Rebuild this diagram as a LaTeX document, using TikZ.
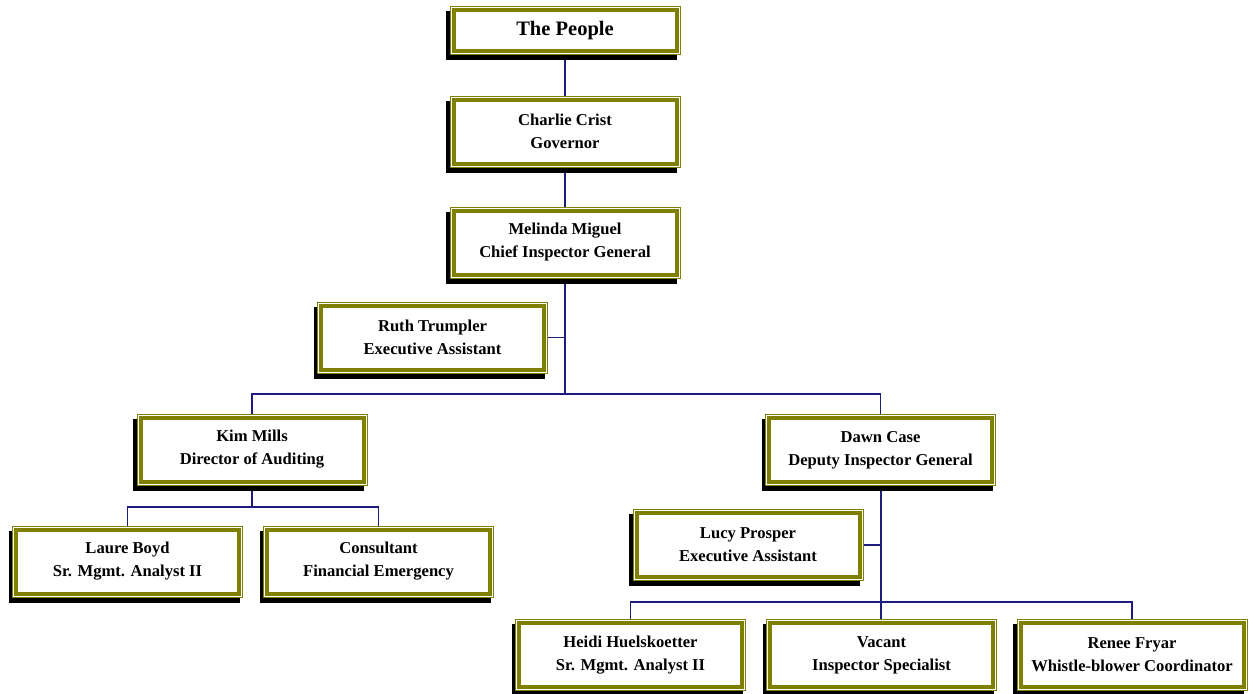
\documentclass[tikz,border=0pt]{standalone}
\usepackage{fontspec}
\setmainfont{Liberation Serif}
\usetikzlibrary{backgrounds}
\definecolor{boxolive}{HTML}{808000}
\definecolor{linknavy}{HTML}{1C1C7C}
\tikzset{
  orgbox/.style={draw=boxolive, line width=4pt, fill=white, inner sep=0pt, outer sep=0pt,
    minimum width=223pt, minimum height=64pt, align=center,
    font=\fontsize{16.6}{23}\selectfont\bfseries},
  topbox/.style={orgbox, minimum height=41pt, font=\fontsize{20.5}{24}\selectfont\bfseries},
  link/.style={draw=linknavy, line width=1.8pt},
  frameline/.style={draw=boxolive, line width=0.9pt},
}
\begin{document}
\begin{tikzpicture}[x=1pt,y=-1pt]
\useasboundingbox (0,0) rectangle (1249,693);
\node[topbox] (people) at (565,30.5) {The People};
\node[orgbox] (charlie) at (565,131.5) {Charlie Crist\\Governor};
\node[orgbox] (melinda) at (565,242.5) {Melinda Miguel\\Chief Inspector General};
\node[orgbox] (ruth) at (432.5,337.5) {Ruth Trumpler\\Executive Assistant};
\node[orgbox] (kim) at (252,449.5) {Kim Mills\\Director of Auditing};
\node[orgbox] (dawn) at (880.5,450) {Dawn Case\\Deputy Inspector General};
\node[orgbox] (laure) at (127.5,561.5) {Laure Boyd\\Sr. Mgmt. Analyst II};
\node[orgbox] (consult) at (378.5,561.5) {Consultant\\Financial Emergency};
\node[orgbox] (lucy) at (748,545) {Lucy Prosper\\Executive Assistant};
\node[orgbox] (heidi) at (630.5,655) {Heidi Huelskoetter\\Sr. Mgmt. Analyst II};
\node[orgbox] (vacant) at (881.5,655) {Vacant\\Inspector Specialist};
\node[orgbox] (renee) at (1132,655) {Renee Fryar\\Whistle-blower Coordinator};

\coordinate (bus1) at (565,394);
\coordinate (bus2) at (252,507);
\coordinate (bus3) at (881,602);

\begin{scope}[on background layer]
\draw[link] (people.south) -- (charlie.north);
\draw[link] (charlie.south) -- (melinda.north);
\draw[link] (melinda.south) -- (bus1);
\draw[link] (ruth.east) -- (ruth.east -| bus1);
\draw[link] (kim.north) |- (bus1) -| (dawn.north);
\draw[link] (kim.south) -- (bus2);
\draw[link] (laure.north) |- (bus2) -| (consult.north);
\draw[link] (dawn.south -| bus3) -- (bus3);
\draw[link] (lucy.east) -- (lucy.east -| bus3);
\draw[link] (heidi.north) |- (bus3) -| (renee.north);
\draw[link] (bus3) -- (vacant.north -| bus3);
\foreach \n in {people,charlie,melinda,ruth,kim,dawn,laure,consult,lucy,heidi,vacant,renee}{
  \fill[black] ([shift={(-7.5pt,-1pt)}]\n.north west) rectangle ([shift={(0.5pt,-9pt)}]\n.south east);
  \fill[white] ([shift={(-4pt,4pt)}]\n.north west) rectangle ([shift={(4pt,-4pt)}]\n.south east);
}
\end{scope}
\foreach \n in {people,charlie,melinda,ruth,kim,dawn,laure,consult,lucy,heidi,vacant,renee}{
  \draw[frameline] ([shift={(-3.5pt,3.5pt)}]\n.north west) rectangle ([shift={(3.5pt,-3.5pt)}]\n.south east);
}
\end{tikzpicture}
\end{document}
